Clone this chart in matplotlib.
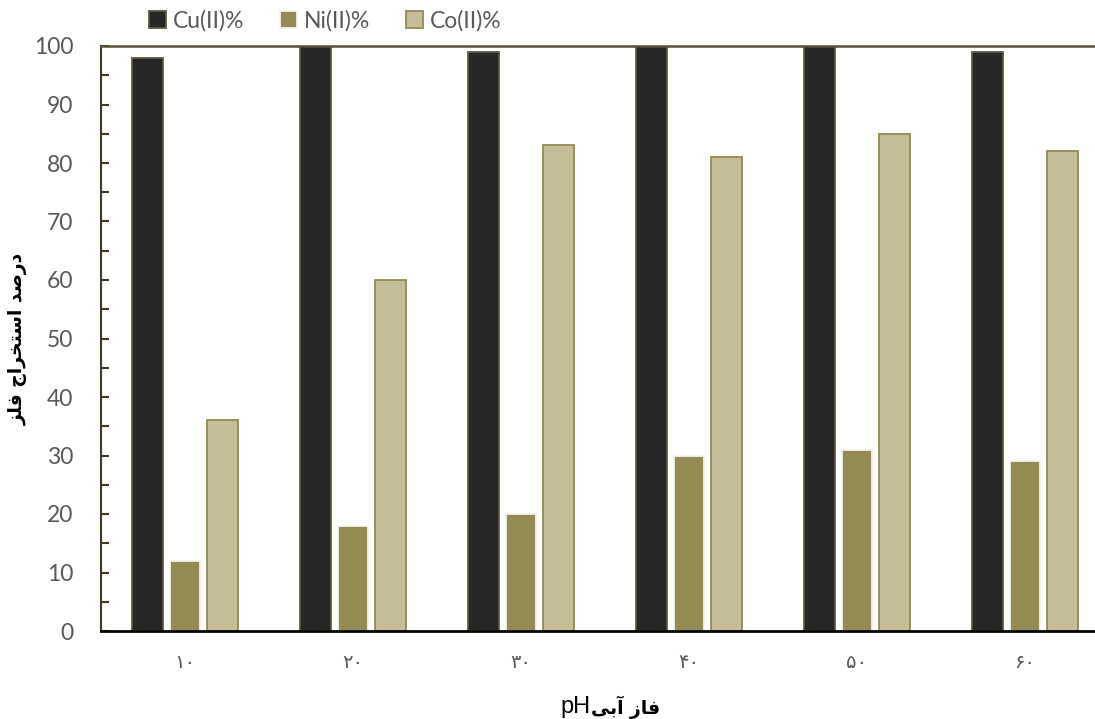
import matplotlib
matplotlib.use("Agg")
import matplotlib.pyplot as plt
import numpy as np
from matplotlib.ticker import MultipleLocator

# Aqueous-phase pH groups (Persian digits) and extraction percentages
categories = ["۱۰", "۲۰", "۳۰", "۴۰", "۵۰", "۶۰"]
cu_values = [98, 100, 99, 100, 100, 99]
ni_values = [12, 18, 20, 30, 31, 29]
co_values = [36, 60, 83, 81, 85, 82]
series_names = ["Cu(II)%", "Ni(II)%", "Co(II)%"]

# Persian labels written in shaped presentation forms, visual order
ylabel_text = "\uFEB0\uFEE0\uFED3 \uFE9D\uFE8D\uFEAE\uFEA8\uFE98\uFEB3\uFE8D \uFEAA\uFEBB\uFEAD\uFEA9"
xlabel_latin = "pH"
xlabel_persian = "\uFEF0\uFE91\uFE81 \uFEAF\uFE8E\uFED3"

fills = ["#262626", "#948A54", "#C4BD97"]
edges = ["#5F5A40", "#F4F4F0", "#948A54"]

plt.rcParams["font.family"] = ["Lato", "DejaVu Sans"]

W, H = 1095, 719
fig = plt.figure(figsize=(W / 100, H / 100), dpi=100)
ax = fig.add_axes([101 / W, 88 / H, 1008 / W, 585 / H])

x = np.arange(len(categories))
width = 0.18
offset = 0.223
for i, (vals, name) in enumerate(zip([cu_values, ni_values, co_values], series_names)):
    ax.bar(x + (i - 1) * offset, vals, width, color=fills[i], edgecolor=edges[i],
           linewidth=1.3, label=name, zorder=2)

ax.set_xlim(-0.5, len(categories) - 0.5)
ax.set_ylim(0, 100)
ax.yaxis.set_major_locator(MultipleLocator(10))
ax.yaxis.set_minor_locator(MultipleLocator(5))
ax.set_xticks(x)
ax.set_xticklabels(categories, family=["DejaVu Sans"], fontsize=14, color="#595959")
ax.tick_params(axis="x", length=0, pad=16)
ax.tick_params(axis="y", which="both", direction="in", length=6, width=1.5,
               color="#403A26", labelsize=16.5, labelcolor="#595959", pad=20)

ax.spines["left"].set_color("#403A26")
ax.spines["left"].set_linewidth(1.5)
ax.spines["top"].set_color("#555038")
ax.spines["top"].set_linewidth(1.8)
ax.spines["right"].set_visible(False)
ax.spines["bottom"].set_color("#000000")
ax.spines["bottom"].set_linewidth(2)

ax.set_ylabel(ylabel_text, family=["DejaVu Sans"], fontsize=13.5, fontweight="bold",
              color="#000000")
ax.yaxis.set_label_coords((28 - 101) / 1008, 0.5)

# x-axis title: Latin "pH" in regular weight, Persian words in bold
fig.text(591 / W, 12 / H, xlabel_latin, ha="right", va="center", fontsize=17,
         family=["Liberation Sans"], color="#000000")
fig.text(591 / W, 12 / H, xlabel_persian, ha="left", va="center", fontsize=13.5,
         family=["DejaVu Sans"], fontweight="bold", color="#000000")

leg = fig.legend(*ax.get_legend_handles_labels(), loc="center left",
                 bbox_to_anchor=(149 / W, 1 - 21 / H), bbox_transform=fig.transFigure,
                 ncol=3, frameon=False, fontsize=16.5, handlelength=0.75,
                 handleheight=0.75, handletextpad=0.3, columnspacing=1.55,
                 labelcolor="#595959", borderaxespad=0.0, borderpad=0.0)

fig.savefig("out.png", dpi=100)
